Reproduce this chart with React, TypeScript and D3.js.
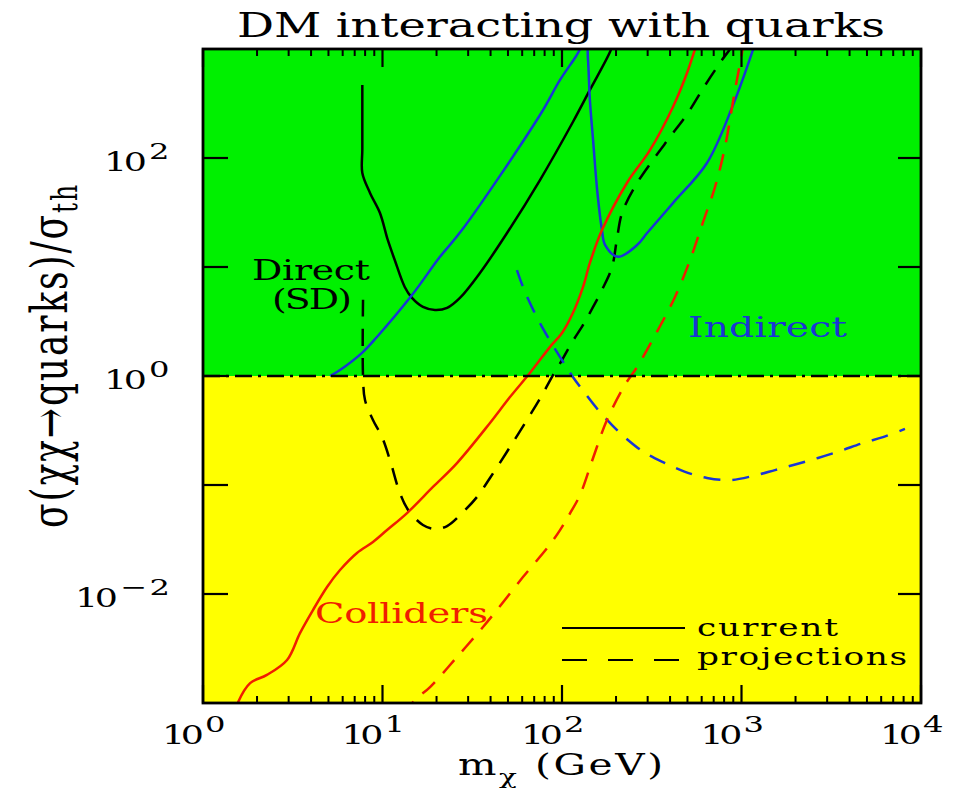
import React from "react";
import * as d3 from "d3";

type Pt = [number, number];

// Axis ranges: dark-matter mass (GeV) and cross-section ratio
const massRange: [number, number] = [1, 1e4];
const ratioRange: [number, number] = [1e-3, 1e3];
const massDecades = [0, 1, 2, 3, 4];
const ratioTickDecades = [-2, -1, 0, 1, 2];
const ratioLabelDecades = [-2, 0, 2];
const minorMultiples = [2, 3, 4, 5, 6, 7, 8, 9];

// Direct detection (spin-dependent)
const directCurrent: Pt[] = [
  [7.72, 468], [7.72, 120], [7.72, 72.8], [8.52, 47.8], [9.68, 31.3], [10.7, 17.7],
  [11.7, 11.6], [13.3, 6.56], [14.6, 5.2], [16.8, 4.3], [19.6, 4.03], [22.9, 4.21],
  [27.0, 5.2], [34.9, 8.81], [49.4, 20.5], [75.4, 62.8], [115, 214], [143, 421],
  [185, 938], [195, 1200],
];
const directProjection: Pt[] = [
  [7.79, 5.0], [7.79, 1.0], [7.99, 0.602], [8.85, 0.395], [9.94, 0.275], [11.0, 0.17],
  [12.5, 0.0845], [13.9, 0.059], [16.8, 0.043], [19.6, 0.0395], [22.9, 0.042],
  [28.1, 0.0565], [33.6, 0.0776], [39.7, 0.116], [51.3, 0.223], [68.0, 0.468],
  [77.4, 0.67], [89.1, 1.02], [100, 1.4], [114, 2.05], [131, 2.94], [149, 4.3],
  [169, 6.41], [190, 10.0], [202, 17.7], [216, 31.3], [258, 56.5], [321, 95.9],
  [400, 156], [503, 259], [618, 448], [778, 793], [863, 1000], [900, 1150],
];

// Indirect detection
const indirectCurrent: Pt[] = [
  [5.1, 1.0], [5.8, 1.135], [7.69, 1.63], [9.31, 2.28], [14.6, 5.53], [20.9, 12.4],
  [27.7, 21.8], [75.4, 248], [97.5, 520], [120, 863], [136, 1210], [139.6, 793],
  [143, 340], [149, 146], [157, 50.8], [167, 21.8], [174, 15.9], [205, 12.4],
  [262, 15.9], [298, 20.5], [415, 38.6], [642, 90], [897, 306], [1158, 980], [1205, 1210],
];
const indirectProjection: Pt[] = [
  [56.1, 9.38], [62.2, 5.9], [77.4, 2.82], [100, 1.4], [115, 0.98], [134, 0.698],
  [159, 0.488], [190, 0.355], [233, 0.259], [290, 0.197], [375, 0.159], [485, 0.132],
  [642, 0.116], [863, 0.111], [1158, 0.121], [1537, 0.137], [2038, 0.156],
  [2668, 0.177], [3540, 0.205], [4750, 0.243], [6140, 0.275], [8140, 0.327],
];

// Collider searches
const colliderCurrent: Pt[] = [
  [1.52, 8.5e-4], [1.57, 1.02e-3], [1.83, 1.52e-3], [2.27, 1.81e-3], [2.94, 2.48e-3],
  [3.47, 4.38e-3], [4.1, 7.13e-3], [4.91, 0.0116], [5.8, 0.0166], [7.21, 0.0238],
  [8.85, 0.03], [10.6, 0.0386], [13.7, 0.0553], [19.1, 0.0959], [26.0, 0.159],
  [39.7, 0.371], [51.3, 0.641], [66.4, 1.07], [85.8, 1.85], [100, 2.48], [115, 3.78],
  [131, 6.56], [143, 10.9], [167, 21.8], [230, 59], [309, 118], [415, 294], [497, 603],
  [551, 1000], [575, 1250],
];
const colliderProjection: Pt[] = [
  [13.5, 7.5e-4], [14.8, 1.02e-3], [18.4, 1.4e-3], [26.0, 2.64e-3], [36.3, 4.98e-3],
  [43.4, 7.13e-3], [60.6, 0.0143], [83.6, 0.027], [97.5, 0.0386], [111, 0.0553],
  [126, 0.0809], [149, 0.177], [178, 0.395], [224, 0.826], [262, 1.21], [338, 2.54],
  [426, 5.31], [517, 11.6], [611, 25.9], [712, 54.2], [809, 126], [920, 421],
  [1006, 919], [1032, 1210],
];

const W = 959;
const H = 792;
const L = 203;
const R = 921;
const T = 49;
const B = 703;
const SX = 1.4; // horizontal stretch applied to all lettering

const GREEN = "#00f000";
const YELLOW = "#ffff00";
const BLUE = "#1a36d4";
const RED = "#f01e00";
const FONT = "'DejaVu Serif', serif";

function Label(props: {
  x: number;
  y: number;
  size: number;
  w?: number;
  fill?: string;
  children: React.ReactNode;
}) {
  const { x, y, size, w, fill = "#000", children } = props;
  return (
    <text
      transform={`translate(${x},${y}) scale(${SX},1)`}
      fontSize={size}
      fontFamily={FONT}
      fill={fill}
      textLength={w ? w / SX : undefined}
      lengthAdjust="spacing"
    >
      {children}
    </text>
  );
}

export default function App() {
  const x = d3.scaleLog().domain(massRange).range([L, R]);
  const y = d3.scaleLog().domain(ratioRange).range([B, T]);
  const line = d3
    .line<Pt>()
    .x((d) => x(d[0]))
    .y((d) => y(d[1]))
    .curve(d3.curveCatmullRom.alpha(0.5));

  const dash = "17,12";
  const curves = [
    { data: directCurrent, color: "#000", dashed: false },
    { data: directProjection, color: "#000", dashed: true },
    { data: indirectCurrent, color: BLUE, dashed: false },
    { data: indirectProjection, color: BLUE, dashed: true },
    { data: colliderCurrent, color: RED, dashed: false },
    { data: colliderProjection, color: RED, dashed: true },
  ];

  const minorTicks: number[] = [];
  massDecades.slice(0, -1).forEach((e) =>
    minorMultiples.forEach((m) => minorTicks.push(m * Math.pow(10, e)))
  );

  return (
    <svg
      width={W}
      height={H}
      style={{ position: "absolute", left: 0, top: 0, background: "#fff" }}
    >
      <defs>
        <clipPath id="plot-area">
          <rect x={L} y={T} width={R - L} height={B - T} />
        </clipPath>
      </defs>

      {/* regions above / below the thermal cross-section */}
      <rect x={L} y={T} width={R - L} height={y(1) - T} fill={GREEN} />
      <rect x={L} y={y(1)} width={R - L} height={B - y(1)} fill={YELLOW} />

      <g clipPath="url(#plot-area)">
        {curves.map((c, i) => (
          <path
            key={i}
            d={line(c.data) || ""}
            fill="none"
            stroke={c.color}
            strokeWidth={2.5}
            strokeDasharray={c.dashed ? dash : undefined}
          />
        ))}
        <line
          x1={L}
          x2={R}
          y1={y(1)}
          y2={y(1)}
          stroke="#000"
          strokeWidth={2.3}
          strokeDasharray="17,6,3,6"
        />
      </g>

      {/* frame */}
      <rect x={L} y={T} width={R - L} height={B - T} fill="none" stroke="#000" strokeWidth={2.8} />

      {/* mass ticks, bottom and top */}
      {massDecades.map((e) => {
        const px = x(Math.pow(10, e));
        return (
          <g key={"M" + e}>
            <line x1={px} x2={px} y1={B} y2={B - 18} stroke="#000" strokeWidth={2.2} />
            <line x1={px} x2={px} y1={T} y2={T + 18} stroke="#000" strokeWidth={2.2} />
          </g>
        );
      })}
      {minorTicks.map((v) => {
        const px = x(v);
        return (
          <g key={"m" + v}>
            <line x1={px} x2={px} y1={B} y2={B - 7} stroke="#000" strokeWidth={2} />
            <line x1={px} x2={px} y1={T} y2={T + 7} stroke="#000" strokeWidth={2} />
          </g>
        );
      })}
      {/* ratio ticks, left and right */}
      {ratioTickDecades.map((e) => {
        const py = y(Math.pow(10, e));
        return (
          <g key={"r" + e}>
            <line x1={L} x2={L + 25} y1={py} y2={py} stroke="#000" strokeWidth={2.2} />
            <line x1={R} x2={R - 23} y1={py} y2={py} stroke="#000" strokeWidth={2.2} />
          </g>
        );
      })}

      {/* mass tick labels */}
      {massDecades.map((e) => {
        const px = x(Math.pow(10, e));
        return (
          <g key={"ml" + e}>
            <Label x={px - 41} y={744} size={26} w={42}>10</Label>
            <Label x={px + 2} y={732} size={23}>{String(e)}</Label>
          </g>
        );
      })}
      {/* ratio tick labels */}
      {ratioLabelDecades.map((e) => {
        const py = y(Math.pow(10, e));
        const exp = e < 0 ? "\u2212" + String(-e) : String(e);
        const expW = e < 0 ? 50 : 21;
        const right = 170;
        return (
          <g key={"rl" + e}>
            <Label x={right - expW - 2 - 43} y={py + 13} size={26} w={43}>10</Label>
            <Label x={right - expW} y={py + 1} size={23} w={expW}>{exp}</Label>
          </g>
        );
      })}

      {/* title and axis titles */}
      <Label x={237} y={37} size={33} w={648}>DM interacting with quarks</Label>
      <Label x={458} y={775} size={29} w={205}>
        m
        <tspan fontSize={21} dy={9}>{"\u03c7"}</tspan>
        <tspan dy={-9}>{" (GeV)"}</tspan>
      </Label>
      <text
        transform={`translate(67,528) scale(${SX},1) rotate(-90)`}
        fontSize={36}
        fontFamily={FONT}
        textLength={343}
        lengthAdjust="spacing"
      >
        {"\u03c3(\u03c7\u03c7\u2192quarks)/\u03c3"}
        <tspan fontSize={25} dy={7}>th</tspan>
      </text>

      {/* curve annotations */}
      <Label x={252} y={280} size={27} w={118}>Direct</Label>
      <Label x={272} y={309} size={27} w={80}>(SD)</Label>
      <Label x={688} y={337} size={28} w={159} fill={BLUE}>Indirect</Label>
      <Label x={315} y={623} size={27.5} w={173} fill={RED}>Colliders</Label>

      {/* legend */}
      <line x1={562} x2={685} y1={628} y2={628} stroke="#000" strokeWidth={2.2} />
      <line x1={562} x2={680} y1={660} y2={660} stroke="#000" strokeWidth={2.2} strokeDasharray="25,21" />
      <Label x={697} y={636} size={24.5} w={141}>current</Label>
      <Label x={697} y={665} size={24.5} w={210}>projections</Label>
    </svg>
  );
}
